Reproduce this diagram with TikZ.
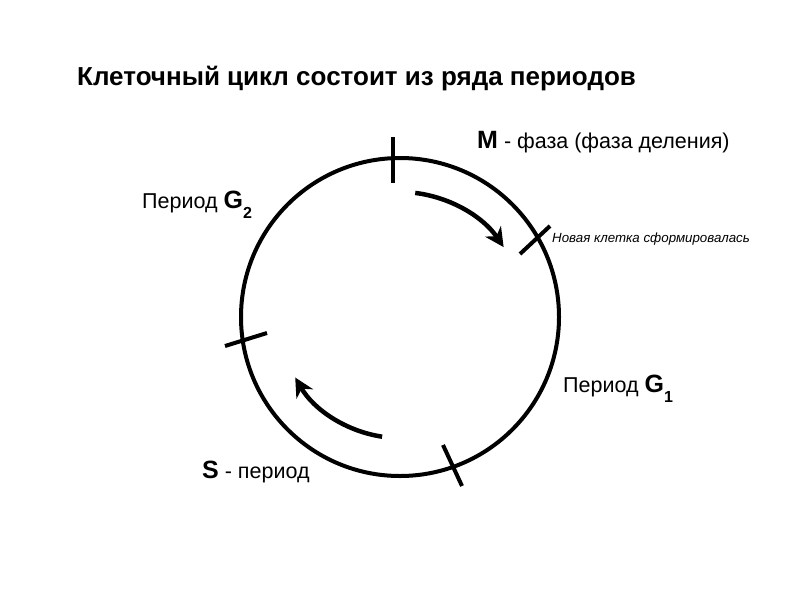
\documentclass[tikz,border=0pt]{standalone}
\usepackage{fontspec}
\setmainfont{Liberation Sans}
\usetikzlibrary{arrows.meta}
\newcommand{\Blet}[1]{{\fontsize{25}{26}\selectfont\bfseries #1}}
\newcommand{\Bsub}[1]{\raisebox{-10pt}{\fontsize{16}{17}\selectfont\bfseries #1}}
\begin{document}
\begin{tikzpicture}[x=1pt,y=-1pt,
  ring/.style={line width=4pt},
  tick/.style={line width=4pt},
  cyclearrow/.style={line width=4.5pt,-{Stealth[length=19pt,width=19pt,inset=6pt]}},
  lbl/.style={anchor=base west,inner sep=0pt,font=\fontsize{21.5}{23}\selectfont}]
\useasboundingbox (0,0) rectangle (800,600);
\coordinate (c) at (400,317);
\draw[ring] (c) circle[radius=159];
% ticks
\coordinate (t1a) at (393,137); \coordinate (t1b) at (393,183);
\coordinate (t2a) at (520,254); \coordinate (t2b) at (550,226);
\coordinate (t3a) at (225,346); \coordinate (t3b) at (267,333);
\coordinate (t4a) at (443,445); \coordinate (t4b) at (462,486);
\draw[tick] (t1a) -- (t1b);
\draw[tick] (t2a) -- (t2b);
\draw[tick] (t3a) -- (t3b);
\draw[tick] (t4a) -- (t4b);
% arrows
\draw[cyclearrow] ([shift={(-83:125)}]c) arc[start angle=-83,end angle=-34,radius=125];
\draw[cyclearrow] ([shift={(98.5:121)}]c) arc[start angle=98.5,end angle=150,radius=121];
% texts
\node[anchor=base west,inner sep=0pt,font=\fontsize{26}{29}\selectfont\bfseries] (title) at (77,85) {Клеточный цикл состоит из ряда периодов};
\node[lbl] (m) at (477,148) {\Blet{M} - фаза (фаза деления)};
\node[lbl] (g2) at (142,208) {Период \Blet{G}\Bsub{2}};
\node[lbl] (g1) at (563,392) {Период \Blet{G}\Bsub{1}};
\node[lbl] (s) at (202,478) {\Blet{S} - период};
\node[anchor=base west,inner sep=0pt,font=\fontsize{13.3}{14}\selectfont\itshape] (nc) at (552,242) {Новая клетка сформировалась};
\end{tikzpicture}
\end{document}
